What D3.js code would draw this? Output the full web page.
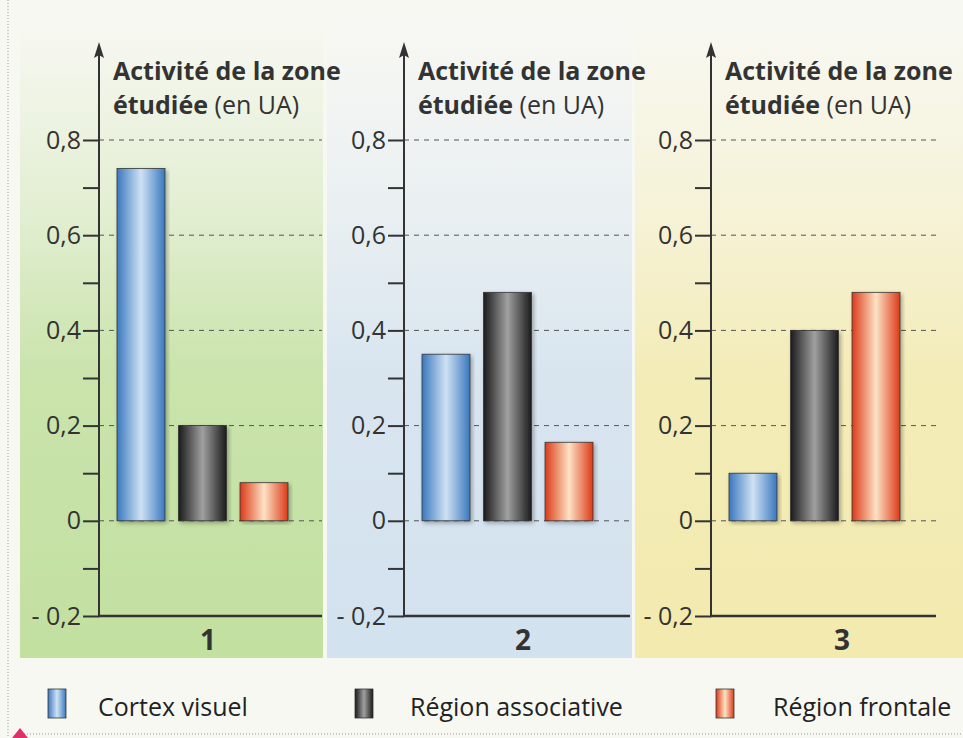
<!DOCTYPE html>
<html>
<head>
<meta charset="utf-8">
<script src="https://cdn.jsdelivr.net/npm/d3@7"></script>
<style>
  body { margin: 0; background: #f8f8f3; }
  svg { display: block; font-family: "Open Sans", sans-serif; }
</style>
</head>
<body>
<div id="chart"></div>
<script>
// data
const panels = ["1", "2", "3"];
const regions = ["Cortex visuel", "Région associative", "Région frontale"];
const activity1 = [0.74, 0.20, 0.08];
const activity2 = [0.35, 0.48, 0.165];
const activity3 = [0.10, 0.40, 0.48];
const tickValues = [-0.2, -0.1, 0, 0.1, 0.2, 0.3, 0.4, 0.5, 0.6, 0.7, 0.8];
const tickLabels = {"-0.2": "- 0,2", "0": "0", "0.2": "0,2", "0.4": "0,4", "0.6": "0,6", "0.8": "0,8"};
const gridValues = [0, 0.2, 0.4, 0.6, 0.8];
const activities = [activity1, activity2, activity3];

// layout of the three panels
const layout = [
  {left: 20, right: 323, axisX: 99, end: 322, labelX: 208, color: "#c2e0a0"},
  {left: 327, right: 632, axisX: 404, end: 630, labelX: 523, color: "#d3e2ef"},
  {left: 635, right: 963, axisX: 711, end: 936, labelX: 842, color: "#f2eaae"}
];
const barColors = [
  {edge: "#3a78be", mid: "#cfe2f4"},
  {edge: "#1a1a1a", mid: "#a0a0a0"},
  {edge: "#dc3a18", mid: "#fde2c4"}
];

const W = 963, H = 738;
const svg = d3.select("#chart").append("svg")
  .attr("width", W).attr("height", H);
const defs = svg.append("defs");

// background gradients
layout.forEach(function(p, i) {
  const g = defs.append("linearGradient")
    .attr("id", "bg" + i).attr("x1", 0).attr("y1", 0).attr("x2", 0).attr("y2", 1);
  g.append("stop").attr("offset", "0%").attr("stop-color", p.color).attr("stop-opacity", 0);
  g.append("stop").attr("offset", "30%").attr("stop-color", p.color).attr("stop-opacity", 0.4);
  g.append("stop").attr("offset", "55%").attr("stop-color", p.color).attr("stop-opacity", 0.85);
  g.append("stop").attr("offset", "100%").attr("stop-color", p.color).attr("stop-opacity", 1);
});
// bar gradients (cylinder look)
barColors.forEach(function(c, i) {
  const g = defs.append("linearGradient")
    .attr("id", "bar" + i).attr("x1", 0).attr("y1", 0).attr("x2", 1).attr("y2", 0);
  g.append("stop").attr("offset", "0%").attr("stop-color", c.edge);
  g.append("stop").attr("offset", "50%").attr("stop-color", c.mid);
  g.append("stop").attr("offset", "100%").attr("stop-color", c.edge);
});
defs.append("filter").attr("id", "shadow")
  .append("feDropShadow").attr("dx", 2).attr("dy", 2).attr("stdDeviation", 2)
  .attr("flood-color", "#000").attr("flood-opacity", 0.3);

// page borders
svg.append("line").attr("x1", 8).attr("x2", 8).attr("y1", 0).attr("y2", 738)
  .attr("stroke", "#999").attr("stroke-dasharray", "1,2");
svg.append("line").attr("x1", 24).attr("x2", 963).attr("y1", 734).attr("y2", 734)
  .attr("stroke", "#999").attr("stroke-dasharray", "1,2");
svg.append("path").attr("d", "M12,738 L20,728 L28,738 Z").attr("fill", "#e0306a");

const y = d3.scaleLinear().domain([-0.2, 0.8]).range([616, 140]);

layout.forEach(function(p, i) {
  svg.append("rect")
    .attr("x", p.left).attr("y", 20)
    .attr("width", p.right - p.left).attr("height", 638)
    .attr("fill", "url(#bg" + i + ")");

  const g = svg.append("g");

  // dashed grid lines
  g.selectAll(".grid").data(gridValues).enter().append("line")
    .attr("x1", p.axisX).attr("x2", p.end)
    .attr("y1", d => y(d)).attr("y2", d => y(d))
    .attr("stroke", "#555").attr("stroke-width", 1)
    .attr("stroke-dasharray", "5,5");

  // bars
  const x = d3.scaleBand().domain(regions)
    .range([p.axisX + 18, p.axisX + 189]).paddingInner(0.22).paddingOuter(0);
  const data = regions.map((r, k) => ({region: r, value: activities[i][k], k: k}));
  g.selectAll(".bar").data(data).enter().append("rect")
    .attr("x", d => x(d.region))
    .attr("y", d => y(d.value))
    .attr("width", x.bandwidth())
    .attr("height", d => y(0) - y(d.value))
    .attr("fill", d => "url(#bar" + d.k + ")")
    .attr("stroke", "#333").attr("stroke-width", 0.8)
    .attr("filter", "url(#shadow)");

  // y axis
  const axis = d3.axisLeft(y).tickValues(tickValues).tickSize(16).tickPadding(2)
    .tickFormat(d => tickLabels[String(Math.round(d * 10) / 10)] || "");
  const ag = g.append("g").attr("transform", "translate(" + p.axisX + ",0)").call(axis);
  ag.select(".domain").remove();
  ag.selectAll(".tick line").attr("stroke", "#333").attr("stroke-width", 2);
  ag.selectAll(".tick text").attr("fill", "#333").style("font-size", "25px")
    .style("font-family", "'Open Sans', sans-serif");

  g.append("line")
    .attr("x1", p.axisX).attr("x2", p.axisX)
    .attr("y1", y(-0.2)).attr("y2", 52)
    .attr("stroke", "#333").attr("stroke-width", 2);
  g.append("path")
    .attr("d", "M" + p.axisX + ",42 L" + (p.axisX - 5) + ",58 L" + p.axisX + ",55 L" + (p.axisX + 5) + ",58 Z")
    .attr("fill", "#333");
  // x axis
  g.append("line")
    .attr("x1", p.axisX - 1).attr("x2", p.end)
    .attr("y1", y(-0.2)).attr("y2", y(-0.2))
    .attr("stroke", "#333").attr("stroke-width", 2.5);

  g.append("text")
    .attr("x", p.labelX).attr("y", 650)
    .attr("text-anchor", "middle")
    .style("font-size", "28px").style("font-weight", "bold").attr("fill", "#333")
    .text(panels[i]);
});

// titles drawn after the panels so they overlap the next panel like the print
layout.forEach(function(p) {
  const t = svg.append("text").attr("y", 80)
    .attr("fill", "#333").style("font-size", "25px");
  t.append("tspan").attr("x", p.axisX + 14).style("font-weight", "bold").text("Activité de la zone");
  t.append("tspan").attr("x", p.axisX + 14).attr("dy", 34).style("font-weight", "bold").text("étudiée");
  t.append("tspan").text(" (en UA)");
});

// legend
const legendX = [48, 355, 716];
const legendTextX = [98, 410, 773];
regions.forEach(function(r, k) {
  svg.append("rect")
    .attr("x", legendX[k]).attr("y", 689).attr("width", 18).attr("height", 29)
    .attr("fill", "url(#bar" + k + ")").attr("stroke", "#333").attr("stroke-width", 0.8);
  svg.append("text")
    .attr("x", legendTextX[k]).attr("y", 716)
    .attr("fill", "#222").style("font-size", "25px")
    .text(r);
});
</script>
</body>
</html>
